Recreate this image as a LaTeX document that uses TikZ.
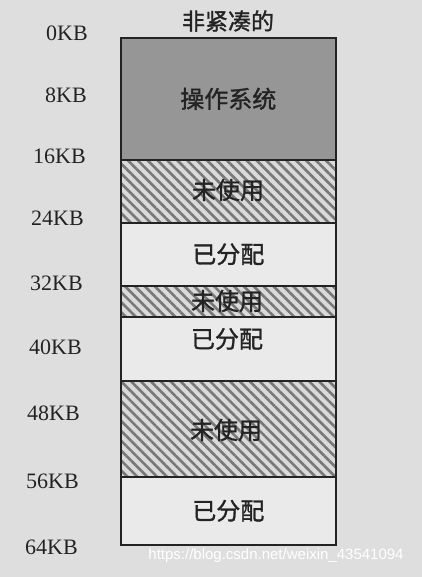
\documentclass[tikz,border=0pt]{standalone}
\usepackage{fontspec}
\setmainfont{Liberation Serif}
\newfontfamily\cjk[AutoFakeBold=1.2]{Noto Sans CJK SC}
\newfontfamily\wmfont{Liberation Sans}
\usetikzlibrary{patterns.meta}
\definecolor{bgcol}{RGB}{222,222,222}
\definecolor{boxwhite}{RGB}{234,234,234}
\definecolor{osgray}{RGB}{150,150,150}
\definecolor{hatchbg}{RGB}{218,218,218}
\definecolor{hatchline}{RGB}{120,120,120}
\definecolor{edge}{RGB}{35,35,35}
\definecolor{inkcol}{RGB}{35,35,35}
\tikzset{
  blk/.style={draw=edge, line width=1.6pt, minimum width=215pt, inner sep=0pt, anchor=north west, font=\cjk\bfseries\fontsize{24}{24}\selectfont, text=inkcol},
  used/.style={blk, fill=boxwhite},
  free/.style={blk, preaction={fill=hatchbg}, preaction={pattern={Lines[angle=-45,distance=7pt,line width=2.6pt]}, pattern color=hatchline}},
  ossty/.style={blk, fill=osgray},
  kb/.style={anchor=east, font=\fontsize{22}{22}\selectfont, text=inkcol, inner sep=0pt},
  cjktext/.style={font=\cjk\bfseries\fontsize{24}{24}\selectfont, text=inkcol, inner sep=0pt},
}
\begin{document}
\begin{tikzpicture}[x=1pt,y=-1pt]
\fill[bgcol] (0,0) rectangle (422,577);
\useasboundingbox (0,0) rectangle (422,577);
\node[ossty, minimum height=122pt] (os) at (120,37) {操作系统};
\node[free, minimum height=63pt] (u1) at (120,159) {};
\node[used, minimum height=63pt] (a1) at (120,222) {已分配};
\node[free, minimum height=31pt] (u2) at (120,285) {};
\node[used, minimum height=64pt] (a2) at (120,316) {};
\node[free, minimum height=96pt] (u3) at (120,380) {};
\node[used, minimum height=68pt] (a3) at (120,476) {已分配};
\node[cjktext] (t1) at (228,190) {未使用};
\node[cjktext] (t2) at (227,301) {未使用};
\node[cjktext] (t3) at (227,339) {已分配};
\node[cjktext] (t4) at (226,430) {未使用};
\node[cjktext, font=\cjk\bfseries\fontsize{23}{23}\selectfont] (title) at (228,21) {非紧凑的};
\node[kb] (k0) at (88,33) {0KB};
\node[kb] (k8) at (87,95) {8KB};
\node[kb] (k16) at (86,156) {16KB};
\node[kb] (k24) at (84,218) {24KB};
\node[kb] (k32) at (83,283) {32KB};
\node[kb] (k40) at (82,347) {40KB};
\node[kb] (k48) at (80,413) {48KB};
\node[kb] (k56) at (79,481) {56KB};
\node[kb] (k64) at (78,547) {64KB};
\node[font=\wmfont\fontsize{15}{15}\selectfont, text=white, inner sep=0pt] (wm) at (276,556) {https://blog.csdn.net/weixin\_43541094};
\end{tikzpicture}
\end{document}
